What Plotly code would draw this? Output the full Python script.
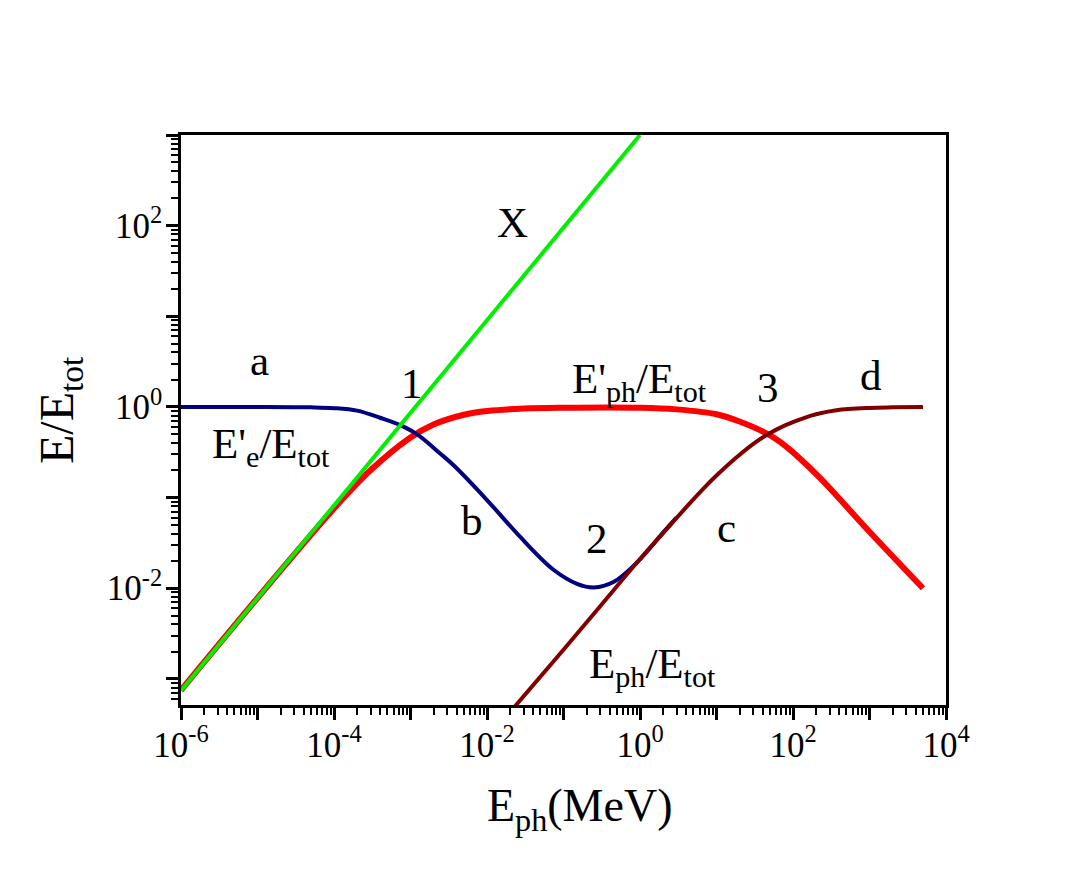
import plotly.graph_objects as go

# curva X (verde)
x_X = [1e-6, 1e-5, 1e-4, 1e-3, 1e-2, 1e-1, 1.0]
y_X = [7.4e-4, 7.8e-3, 0.082, 0.86, 9.1, 96, 1000]

# E'ph/Etot (vermelho)
x_ph1 = [1e-6, 1e-5, 1e-4, 3e-4, 1e-3, 2e-3, 5e-3, 1e-2, 3e-2, 0.1, 1, 3, 10, 20, 47, 80, 123, 225, 372, 1000, 2750, 5000]
y_ph1 = [7.5e-4, 7.8e-3, 0.076, 0.2, 0.46, 0.64, 0.82, 0.9, 0.96, 0.98, 0.98, 0.94, 0.83, 0.69, 0.5, 0.37, 0.27, 0.165, 0.105, 0.042, 0.017, 0.01]

# E'e/Etot (azul)
x_e = [1e-6, 1e-5, 5e-5, 1e-4, 2e-4, 4e-4, 8e-4, 1.3e-3, 2.4e-3, 3.6e-3, 1e-2, 2.7e-2, 7.4e-2, 0.15, 0.25, 0.45, 0.9, 2, 3]
y_e = [1.0, 1.0, 0.99, 0.97, 0.91, 0.76, 0.61, 0.48, 0.31, 0.23, 0.094, 0.037, 0.016, 0.0112, 0.0102, 0.0117, 0.019, 0.041, 0.06]

# Eph/Etot (vermelho escuro)
x_ph = [0.02, 0.1, 0.3, 1, 2.5, 4, 6.7, 10, 18, 30, 47, 80, 136, 200, 370, 1000, 2000, 5000]
y_ph = [4.3e-4, 2.1e-3, 6.3e-3, 0.021, 0.05, 0.078, 0.125, 0.175, 0.275, 0.39, 0.5, 0.63, 0.75, 0.83, 0.92, 0.975, 0.99, 1.0]

fonte = "Liberation Serif"

fig = go.Figure()
fig.add_trace(go.Scatter(x=x_ph1, y=y_ph1, mode="lines", line=dict(color="#ff0000", width=6, shape="spline")))
fig.add_trace(go.Scatter(x=x_e, y=y_e, mode="lines", line=dict(color="#000080", width=4, shape="spline")))
fig.add_trace(go.Scatter(x=x_ph, y=y_ph, mode="lines", line=dict(color="#800000", width=4, shape="spline")))
fig.add_trace(go.Scatter(x=x_X, y=y_X, mode="lines", line=dict(color="#00f000", width=4)))

# ticks
dec_x = list(range(-6, 5))
dec_y = list(range(-3, 4))
sup = lambda k: "10<sup>%d</sup>" % k
menores_x = [m * 10 ** k for k in range(-6, 4) for m in range(2, 10)]
menores_y = [m * 10 ** k for k in range(-4, 3) for m in range(2, 10)]

eixo = dict(type="log", showgrid=False, zeroline=False, showline=True, linecolor="black",
            linewidth=2.5, mirror=True, ticks="outside", ticklen=12, tickwidth=2.5,
            tickcolor="black", tickfont=dict(family=fonte, size=35, color="black"))

fig.update_xaxes(**eixo, range=[-6, 4], ticklabelstandoff=-5,
                 tickvals=[10.0 ** k for k in dec_x],
                 ticktext=[sup(k) if k % 2 == 0 else "" for k in dec_x],
                 minor=dict(tickvals=menores_x, ticklen=7, tickwidth=2, tickcolor="black", ticks="outside"))
fig.update_yaxes(**eixo, range=[-3.288, 3.0], ticklabelstandoff=-3,
                 tickvals=[10.0 ** k for k in dec_y],
                 ticktext=[sup(k) if k % 2 == 0 else "" for k in dec_y],
                 minor=dict(tickvals=menores_y, ticklen=7, tickwidth=2, tickcolor="black", ticks="outside"))

# títulos dos eixos
fig.add_annotation(text="E<sub>ph</sub>(MeV)", xref="paper", yref="paper",
                   x=(579 - 181) / 765, y=(705 - 809) / 570, showarrow=False,
                   xanchor="center", yanchor="middle", font=dict(family=fonte, size=46, color="black"))
fig.add_annotation(text="E/E<sub>tot</sub>", xref="paper", yref="paper", textangle=-90,
                   x=(60 - 181) / 765, y=(705 - 410) / 570, showarrow=False,
                   xanchor="center", yanchor="middle", font=dict(family=fonte, size=48, color="black"))

# rótulos
rotulos = [
    ("X", 512, 222), ("a", 259, 360), ("1", 412, 383), ("E'<sub>ph</sub>/E<sub>tot</sub>", 639, 382),
    ("3", 768, 387), ("d", 871, 375), ("E'<sub>e</sub>/E<sub>tot</sub>", 271, 447), ("b", 472, 520),
    ("2", 597, 538), ("c", 726, 527), ("E<sub>ph</sub>/E<sub>tot</sub>", 652, 667),
]
for txt, px, py in rotulos:
    fig.add_annotation(text=txt, xref="paper", yref="paper",
                       x=(px - 181) / 765, y=(705 - py) / 570, showarrow=False,
                       xanchor="center", yanchor="middle",
                       font=dict(family=fonte, size=43, color="black"))

# a página tem margem de 8px no body
fig.update_layout(width=1074, height=872, plot_bgcolor="white", paper_bgcolor="white",
                  showlegend=False, margin=dict(l=173, r=136, t=127, b=175))
fig.write_html("out.html")
